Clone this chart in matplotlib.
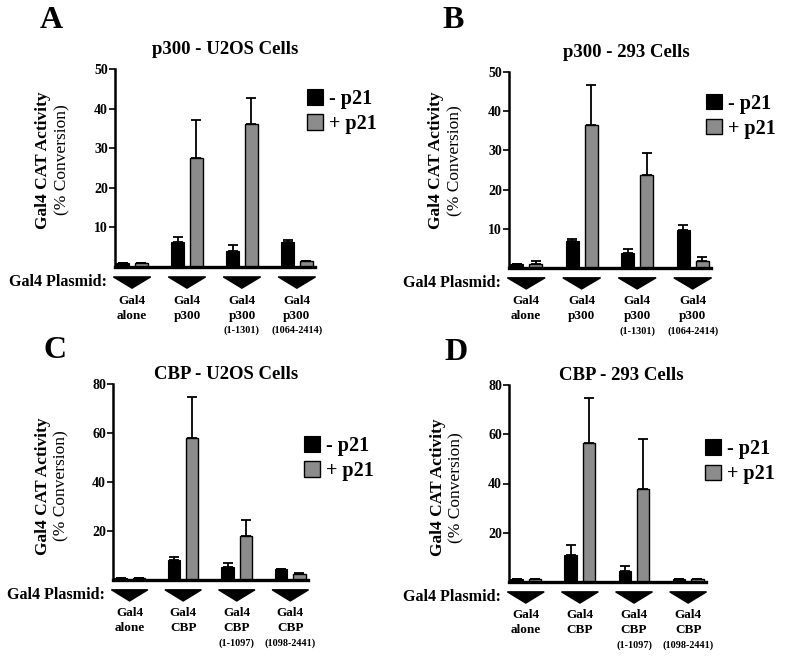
import matplotlib
matplotlib.use("Agg")
import matplotlib.pyplot as plt
from matplotlib.transforms import blended_transform_factory

plt.rcParams['font.family'] = ['Liberation Serif', 'DejaVu Serif']

# ---- data ----
groups = [0, 1, 2, 3]
p300_names = ["Gal4\nalone", "Gal4\np300", "Gal4\np300", "Gal4\np300"]
p300_sub = ["", "", "(1-1301)", "(1064-2414)"]
cbp_names = ["Gal4\nalone", "Gal4\nCBP", "Gal4\nCBP", "Gal4\nCBP"]
cbp_sub = ["", "", "(1-1097)", "(1098-2441)"]

a_minus = [1.0, 6.2, 4.0, 6.4]
a_minus_err = [0.0, 1.5, 1.5, 0.5]
a_plus = [0.9, 27.6, 36.0, 1.4]
a_plus_err = [0.0, 9.6, 6.8, 0.2]

b_minus = [1.1, 6.8, 3.8, 9.7]
b_minus_err = [0.0, 0.6, 1.0, 1.2]
b_plus = [1.0, 36.6, 23.6, 1.9]
b_plus_err = [0.7, 10.0, 5.8, 0.9]

c_minus = [1.0, 8.1, 5.4, 4.3]
c_minus_err = [0.0, 1.4, 1.6, 0.3]
c_plus = [0.8, 58.1, 18.0, 2.4]
c_plus_err = [0.0, 16.5, 6.6, 0.3]

d_minus = [1.3, 10.8, 4.5, 1.2]
d_minus_err = [0.0, 4.1, 2.1, 0.0]
d_plus = [1.2, 56.4, 37.8, 1.2]
d_plus_err = [0.0, 18.2, 20.3, 0.0]

W, H = 788, 664
fig = plt.figure(figsize=(W / 100, H / 100), dpi=100)


def px_axes(left, top, right, bottom):
    return fig.add_axes([left / W, 1 - bottom / H, (right - left) / W, (bottom - top) / H])


def panel(ax, letter, letter_xy, title, title_xy, ylabel_y, leg_xy,
          minus, minus_err, plus, plus_err, ymax, ticks, names, subs):
    bw = 0.23
    off = 0.17
    ax.bar([g - off for g in groups], minus, bw, color='black', edgecolor='black',
           linewidth=0.8, label='- p21',
           yerr=[[0] * 4, minus_err],
           error_kw=dict(ecolor='black', capsize=3.5, elinewidth=1.3, capthick=1.3))
    ax.bar([g + off for g in groups], plus, bw, color='#8c8c8c', edgecolor='black',
           linewidth=1.0, label='+ p21',
           yerr=[[0] * 4, plus_err],
           error_kw=dict(ecolor='black', capsize=3.5, elinewidth=1.3, capthick=1.3))

    ax.set_xlim(-0.31, 3.33)
    ax.set_ylim(0, ymax)
    ax.set_yticks(ticks)
    ax.set_xticks([])
    for s in ['top', 'right']:
        ax.spines[s].set_visible(False)
    ax.spines['left'].set_linewidth(1.8)
    ax.spines['bottom'].set_linewidth(2.4)
    ax.tick_params(axis='y', direction='out', length=4, width=1.2, pad=1,
                   labelsize=10)
    for lab in ax.get_yticklabels():
        lab.set_fontweight('bold')

    # triangles and plasmid labels under each group
    tr = blended_transform_factory(ax.transData, ax.transAxes)
    for g, nm, sb in zip(groups, names, subs):
        ax.fill([g - 0.34, g + 0.34, g], [-0.05, -0.05, -0.107], color='black',
                transform=tr, clip_on=False)
        top, bot = nm.split("\n")
        ax.text(g, -0.17, top, transform=tr, ha='center', va='center',
                fontsize=9.5, fontweight='bold')
        ax.text(g, -0.245, bot, transform=tr, ha='center', va='center',
                fontsize=9.5, fontweight='bold')
        if sb:
            ax.text(g, -0.32, sb, transform=tr, ha='center', va='center',
                    fontsize=7.3, fontweight='bold')
    ax.text(-0.04, -0.078, "Gal4 Plasmid:", transform=ax.transAxes, ha='right',
            va='center', fontsize=11.6, fontweight='bold')

    ax.text(-0.36, ylabel_y, "Gal4 CAT Activity", transform=ax.transAxes,
            rotation=90, ha='center', va='center', fontsize=12.5, fontweight='bold')
    ax.text(-0.265, ylabel_y, "(% Conversion)", transform=ax.transAxes,
            rotation=90, ha='center', va='center', fontsize=12.5)

    ax.text(title_xy[0], title_xy[1], title, transform=ax.transAxes, ha='center',
            va='center', fontsize=13.5, fontweight='bold')
    fig.text(letter_xy[0] / W, 1 - letter_xy[1] / H, letter, ha='center',
             va='center', fontsize=23, fontweight='bold')

    leg = ax.legend(loc='upper left', bbox_to_anchor=leg_xy, frameon=False,
                    prop=dict(size=14.5, weight='bold'), borderpad=0,
                    borderaxespad=0, handlelength=0.8, handleheight=0.8,
                    handletextpad=0.3, labelspacing=0.25)
    return leg


axA = px_axes(115, 69, 315, 267)
panel(axA, "A", (51, 20), "p300 - U2OS Cells", (0.55, 1.096), 0.54, (0.96, 0.90),
      a_minus, a_minus_err, a_plus, a_plus_err, 50, [10, 20, 30, 40, 50],
      p300_names, p300_sub)

axB = px_axes(509, 72, 711, 268)
panel(axB, "B", (453, 20), "p300 - 293 Cells", (0.58, 1.097), 0.55, (0.975, 0.89),
      b_minus, b_minus_err, b_plus, b_plus_err, 50, [10, 20, 30, 40, 50],
      p300_names, p300_sub)

axC = px_axes(113, 384, 308, 580)
panel(axC, "C", (55, 351), "CBP - U2OS Cells", (0.58, 1.046), 0.48, (0.98, 0.735),
      c_minus, c_minus_err, c_plus, c_plus_err, 80, [20, 40, 60, 80],
      cbp_names, cbp_sub)

axD = px_axes(509, 385, 706, 582)
panel(axD, "D", (456, 352), "CBP - 293 Cells", (0.57, 1.05), 0.48, (0.995, 0.725),
      d_minus, d_minus_err, d_plus, d_plus_err, 80, [20, 40, 60, 80],
      cbp_names, cbp_sub)

fig.savefig("out.png", dpi=100)
